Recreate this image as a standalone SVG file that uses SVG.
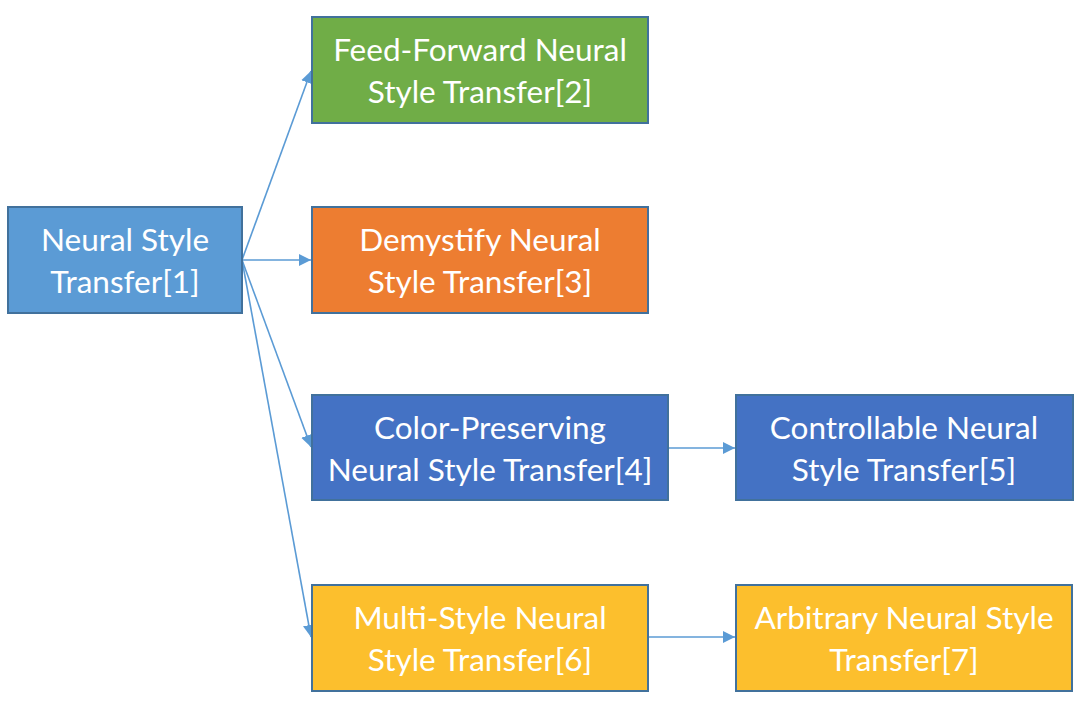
<svg xmlns="http://www.w3.org/2000/svg" width="1084" height="710" viewBox="0 0 1084 710">
<style>
.box{stroke:#41719C;stroke-width:2}
.t{font-family:Lato,"Open Sans",sans-serif;font-size:31.5px;fill:#fff;text-anchor:middle}
.c{stroke:#5B9BD5;stroke-width:1.6;fill:none;marker-end:url(#ah)}
</style>
<defs>
<marker id="ah" viewBox="0 0 10 10" refX="10" refY="5" markerWidth="7.5" markerHeight="7.5" markerUnits="strokeWidth" orient="auto">
<path d="M0,0 L10,5 L0,10 z" fill="#5B9BD5"/>
</marker>
</defs>
<rect width="1084" height="710" fill="#fff"/>
<g id="connectors">
<line class="c" x1="242" y1="260" x2="311" y2="71"/>
<line class="c" x1="242" y1="260" x2="311" y2="260"/>
<line class="c" x1="242" y1="260" x2="311" y2="447"/>
<line class="c" x1="242" y1="260" x2="311" y2="637"/>
<line class="c" x1="668" y1="448" x2="735" y2="448"/>
<line class="c" x1="648" y1="637" x2="735" y2="637"/>
</g>
<g id="n1"><rect class="box" x="8" y="207" width="234" height="106" fill="#5B9BD5"/>
<text class="t" x="125" y="251">Neural Style</text><text class="t" x="125" y="293">Transfer[1]</text></g>
<g id="n2"><rect class="box" x="312" y="17" width="336" height="106" fill="#70AD47"/>
<text class="t" x="480" y="61">Feed-Forward Neural</text><text class="t" x="480" y="103">Style Transfer[2]</text></g>
<g id="n3"><rect class="box" x="312" y="207" width="336" height="106" fill="#ED7D31"/>
<text class="t" x="480" y="251">Demystify Neural</text><text class="t" x="480" y="293">Style Transfer[3]</text></g>
<g id="n4"><rect class="box" x="312" y="395" width="356" height="105" fill="#4472C4"/>
<text class="t" x="490" y="439">Color-Preserving</text><text class="t" x="490" y="481">Neural Style Transfer[4]</text></g>
<g id="n5"><rect class="box" x="736" y="395" width="337" height="105" fill="#4472C4"/>
<text class="t" x="904" y="439">Controllable Neural</text><text class="t" x="904" y="481">Style Transfer[5]</text></g>
<g id="n6"><rect class="box" x="312" y="585" width="336" height="106" fill="#FCBF2D"/>
<text class="t" x="480" y="629">Multi-Style Neural</text><text class="t" x="480" y="671">Style Transfer[6]</text></g>
<g id="n7"><rect class="box" x="736" y="585" width="336" height="106" fill="#FCBF2D"/>
<text class="t" x="904" y="629">Arbitrary Neural Style</text><text class="t" x="904" y="671">Transfer[7]</text></g>
</svg>
